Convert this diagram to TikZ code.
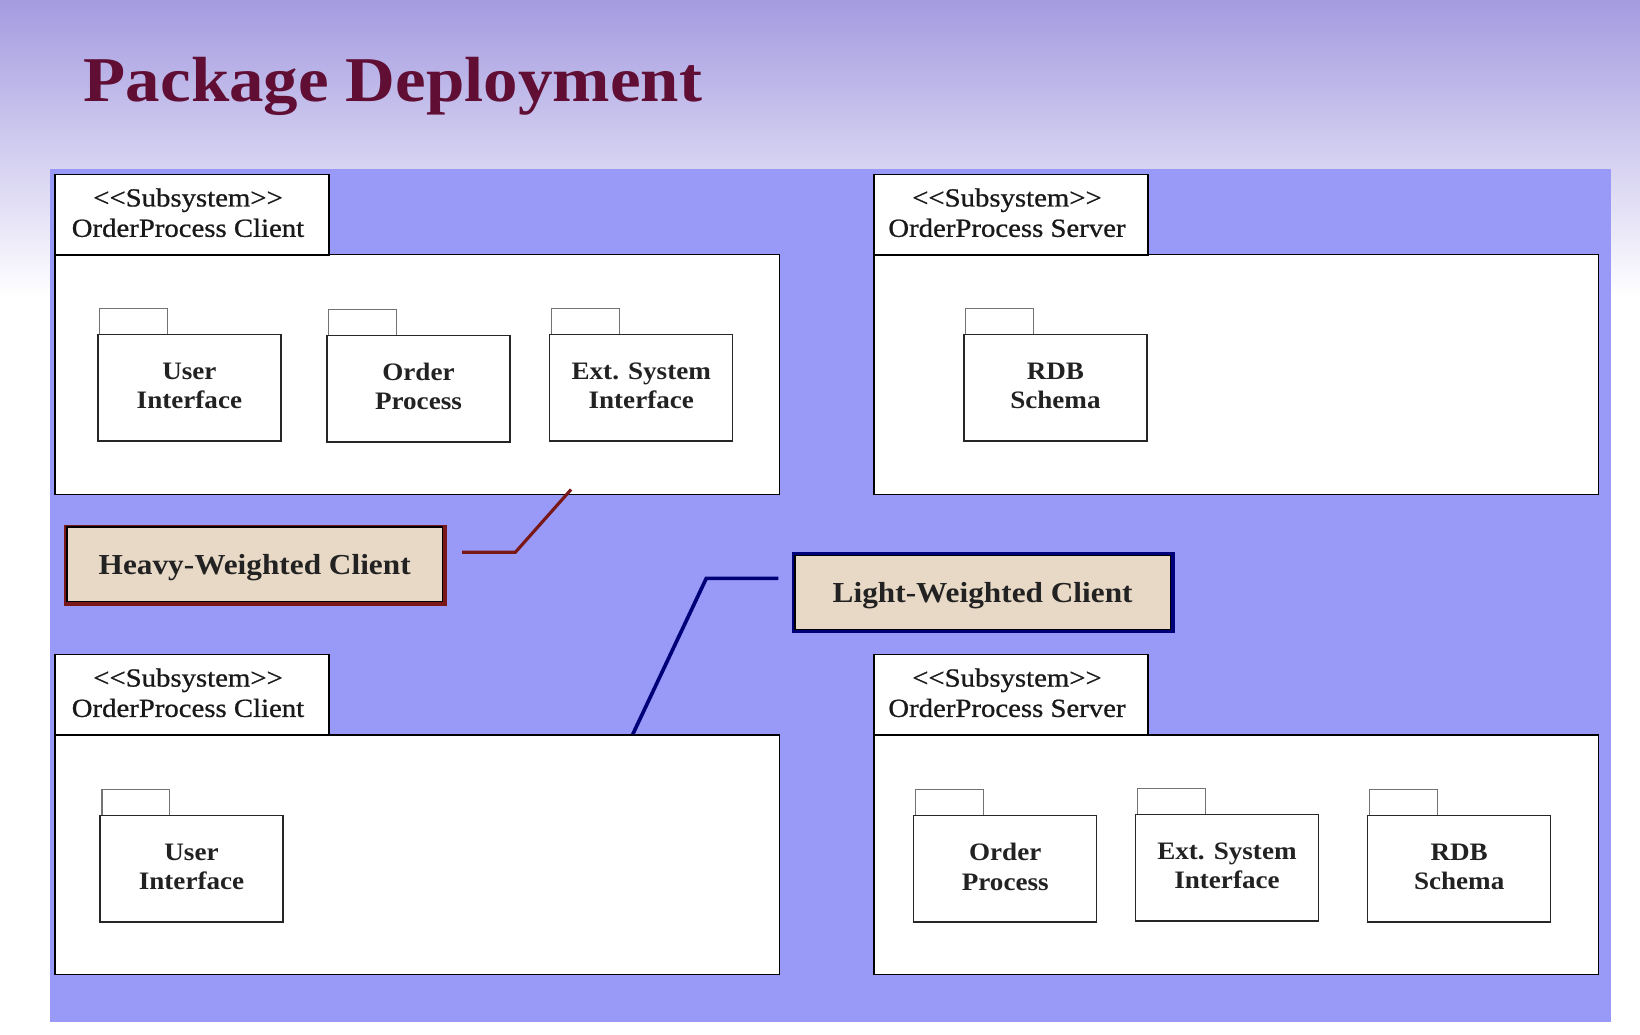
\documentclass[tikz,border=0pt]{standalone}
\usepackage{fontspec}
\setmainfont[FakeStretch=1.08]{Liberation Serif}
\newfontfamily\subfont[FakeStretch=1.1,FakeBold=0.8]{Liberation Serif}
\usetikzlibrary{calc}
\definecolor{bgtop}{RGB}{164,155,224}
\definecolor{panel}{RGB}{153,153,248}
\definecolor{titlecol}{RGB}{96,14,52}
\definecolor{beige}{RGB}{232,217,198}
\definecolor{heavyred}{RGB}{122,24,24}
\definecolor{navyline}{RGB}{0,0,120}
\definecolor{txtgray}{RGB}{34,34,34}
\tikzset{
  subtab/.style={draw=black, fill=white, line width=1.5, inner sep=0, align=center,
    anchor=north west, text=black!90, text depth=4, font=\subfont\fontsize{25}{29}\selectfont},
  submain/.style={draw=black, fill=white, line width=1.2, inner sep=0, anchor=north west},
  pkgtab/.style={draw=black!55, fill=white, line width=1, inner sep=0, anchor=north west,
    minimum width=65, minimum height=25},
  pkgbody/.style={draw=black!85, fill=white, line width=1.2, inner sep=0, anchor=north west,
    minimum width=175, minimum height=102, align=center, text=txtgray, text depth=4,
    font=\bfseries\fontsize{24}{28}\selectfont},
  clientbox/.style={draw=black, fill=beige, line width=1.5, inner sep=0,
    minimum width=359, minimum height=71, text=txtgray, text height=25, text depth=6,
    font=\bfseries\fontsize{27.7}{32}\selectfont},
  heavyconn/.style={draw=heavyred, line width=3},
  lightconn/.style={draw=navyline, line width=3.5},
}
\newcommand\pkgnode[4]{%
  \node[pkgtab] (#1tab) at (#2+2,#3-25) {};
  \node[pkgbody] (#1) at (#2,#3) {#4};
}
\newcommand\subsys[4]{%
  \node[submain, minimum width=693, minimum height=229] (#1main) at (#2,#3+77) {};
  \node[subtab, minimum width=262, minimum height=77] (#1tab) at (#2,#3)
    {<\kern0pt<Subsystem>\kern0pt>\hspace*{8pt}\\#4\hspace*{8pt}};
}
\begin{document}
\begin{tikzpicture}[x=1pt,y=-1pt]
\useasboundingbox (0,0) rectangle (1568,989);
\shade[top color=bgtop, bottom color=white] (0,0) rectangle (1568,285);
\fill[white] (0,284) rectangle (1568,989);
\fill[panel] (48,162) rectangle (1540,977);
% title
\node[anchor=base west, inner sep=0, text=titlecol, font=\bfseries\fontsize{61}{70}\selectfont] (title) at (80,97) {Package Deployment};
% subsystems
\subsys{tl}{52}{166}{OrderProcess Client}
\subsys{tr}{835}{166}{OrderProcess Server}
\subsys{bl}{52}{625}{OrderProcess Client}
\subsys{br}{835}{625}{OrderProcess Server}
% packages
\pkgnode{p1}{93}{319}{User\\Interface}
\pkgnode{p2}{312}{320}{Order\\Process}
\pkgnode{p3}{525}{319}{Ext. System\\Interface}
\pkgnode{p4}{921}{319}{RDB\\Schema}
\pkgnode{p5}{95}{779}{User\\Interface}
\pkgnode{p6}{873}{779}{Order\\Process}
\pkgnode{p7}{1085}{778}{Ext. System\\Interface}
\pkgnode{p8}{1307}{779}{RDB\\Schema}
% client notes (coloured frames behind)
\fill[heavyred] (61.5,501.5) rectangle (427,579.5);
\node[clientbox] (heavy) at (243.5,539.5) {Heavy-Weighted Client};
\fill[navyline] (757.5,528) rectangle (1123,605);
\node[clientbox] (light) at (939.5,566.5) {Light-Weighted Client};
% connectors
\coordinate (h1) at ($(heavy.east)+(18,-11.5)$);
\coordinate (h2) at ($(h1)+(51,0)$);
\coordinate (h3) at (546,468);
\draw[heavyconn] (h1) -- (h2) -- (h3);
\coordinate (l1) at ($(light.west)+(-15,-13.5)$);
\coordinate (l2) at ($(l1)+(-69,0)$);
\coordinate (l3) at (blmain.north west -| 605,0);
\draw[lightconn] (l1) -- (l2) -- (l3);
\end{tikzpicture}
\end{document}
